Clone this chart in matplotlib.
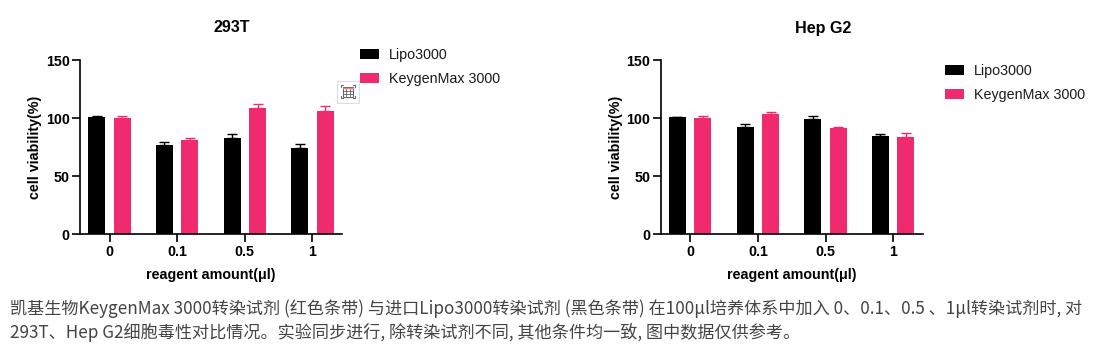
import matplotlib
matplotlib.use('Agg')
import matplotlib.pyplot as plt
from matplotlib.patches import Rectangle

W, H = 1114, 356

categories = ['0', '0.1', '0.5', '1']
series_names = ['Lipo3000', 'KeygenMax 3000']

# 293T
lipo_293t = [100.6, 76.3, 82.9, 74.0]
lipo_293t_err = [0.9, 3.4, 3.7, 3.7]
keygen_293t = [100.4, 81.4, 108.7, 106.1]
keygen_293t_err = [1.6, 1.5, 3.4, 4.0]

# Hep G2
lipo_hep = [100.6, 92.0, 98.9, 84.6]
lipo_hep_err = [0.6, 2.9, 2.9, 1.7]
keygen_hep = [100.4, 103.2, 91.2, 84.0]
keygen_hep_err = [1.4, 2.0, 0.8, 2.9]

caption_1 = '凯基生物KeygenMax 3000转染试剂 (红色条带) 与进口Lipo3000转染试剂 (黑色条带) 在100μl培养体系中加入 0、0.1、0.5 、1μl转染试剂时, 对'
caption_2 = '293T、Hep G2细胞毒性对比情况。实验同步进行, 除转染试剂不同, 其他条件均一致, 图中数据仅供参考。'

BLACK = '#000000'
PINK = '#f02a6e'
ARIAL = 'Liberation Sans'

fig = plt.figure(figsize=(W / 100, H / 100), dpi=100)


def panel(x0, title, title_x, title_y, lipo, lipo_err, keygen, keygen_err, legend_x, legend_y):
    ax = fig.add_axes([x0 / W, 1 - 234 / H, 262 / W, 174 / H])
    xs = list(range(len(categories)))
    off = 0.188
    w = 0.25
    ax.bar([x - off for x in xs], lipo, w, color=BLACK, label=series_names[0],
           yerr=[[0] * 4, lipo_err],
           error_kw=dict(ecolor=BLACK, elinewidth=1, capsize=3.6, capthick=1))
    ax.bar([x + off for x in xs], keygen, w, color=PINK, label=series_names[1],
           yerr=[[0] * 4, keygen_err],
           error_kw=dict(ecolor=PINK, elinewidth=1, capsize=3.6, capthick=1))
    ax.set_xlim(-0.436, 3.436)
    ax.set_ylim(0, 150)
    ax.set_yticks([0, 50, 100, 150])
    ax.set_xticks(xs)
    ax.set_xticklabels(categories)
    ax.spines['top'].set_visible(False)
    ax.spines['right'].set_visible(False)
    ax.spines['left'].set_linewidth(1.2)
    ax.spines['bottom'].set_linewidth(1.2)
    ax.tick_params(axis='both', width=1.2, length=5.5, pad=2, labelsize=10.3)
    for t in ax.get_xticklabels() + ax.get_yticklabels():
        t.set_fontfamily(ARIAL)
        t.set_fontweight('bold')
    ax.tick_params(axis='x', pad=2.5)
    ax.set_ylabel('cell viability(%)', fontfamily=ARIAL, fontweight='bold', fontsize=10.3)
    ax.set_xlabel('reagent amount(μl)', fontfamily=ARIAL, fontweight='bold', fontsize=10.3)
    ax.yaxis.set_label_coords(-37.5 / 262, (234 - 147) / 174)
    ax.xaxis.set_label_coords(131 / 262, -34 / 174)
    fig.text(title_x / W, 1 - title_y / H, title, fontfamily=ARIAL,
             fontweight='bold', fontsize=11.6, ha='center', va='center')
    fig.legend(*ax.get_legend_handles_labels(), loc='upper left',
               bbox_to_anchor=(legend_x / W, 1 - legend_y / H),
               frameon=False, borderpad=0, borderaxespad=0,
               prop=dict(family=ARIAL, size=10.3), labelcolor='#1a1a1a',
               handlelength=1.33, handleheight=0.72, handletextpad=0.7,
               labelspacing=0.7)
    return ax


panel(80, '293T', 232, 27, lipo_293t, lipo_293t_err, keygen_293t, keygen_293t_err, 360, 48)
panel(660.7, 'Hep G2', 823, 29, lipo_hep, lipo_hep_err, keygen_hep, keygen_hep_err, 945, 64)

# caption
for y, s in [(309, caption_1), (332, caption_2)]:
    fig.text(10 / W, 1 - y / H, s, family=['Noto Sans CJK SC', 'DejaVu Sans'],
             fontsize=12.3, color='#444444', ha='left', va='center')

# little table-select icon floating over the first chart
icon = fig.add_axes([0, 0, 1, 1], facecolor='none', zorder=5)
icon.set_xlim(0, W)
icon.set_ylim(H, 0)
icon.axis('off')
icon.add_patch(Rectangle((337, 81), 22, 22, fc='white', ec='#dddddd', lw=0.8))
icon.add_patch(Rectangle((343, 87), 10, 10, fc='none', ec='#666666', lw=0.8))
icon.plot([343, 353], [88, 88], color='#f08080', lw=1)
icon.plot([343, 353], [91, 91], color='#666666', lw=0.6)
icon.plot([343, 353], [94, 94], color='#666666', lw=0.6)
icon.plot([346.3, 346.3], [89, 97], color='#666666', lw=0.6)
icon.plot([349.7, 349.7], [89, 97], color='#666666', lw=0.6)
for cx, cy, dx, dy in [(341, 85, 1, 1), (355, 85, -1, 1), (341, 98, 1, -1), (355, 98, -1, -1)]:
    icon.plot([cx + 2 * dx, cx, cx], [cy, cy, cy + 2 * dy], color='#666666', lw=0.7)

fig.savefig('out.png', dpi=100)
